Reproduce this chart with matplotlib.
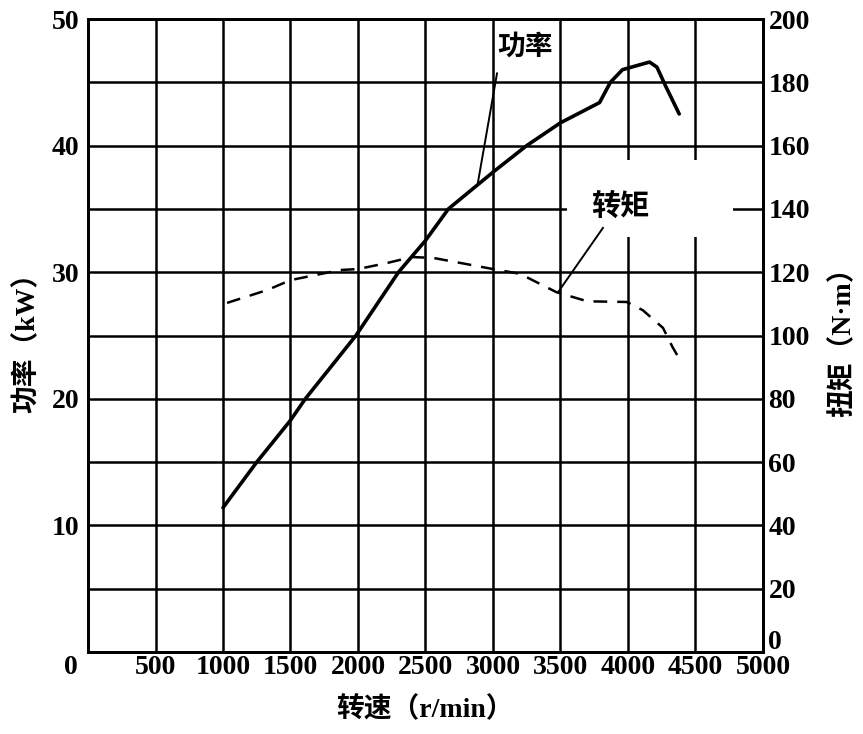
import matplotlib
matplotlib.use('Agg')
import matplotlib.pyplot as plt
import matplotlib.transforms as mtransforms
from matplotlib.patches import Rectangle

# engine speed (r/min) and power (kW)
power_rpm = [1000, 1250, 1500, 1610, 1985, 2300, 2500, 2670, 3000, 3250, 3500,
             3790, 3870, 3960, 4160, 4215, 4275, 4380]
power_kw = [11.4, 15.0, 18.3, 20.0, 25.0, 30.0, 32.5, 35.0, 37.9, 40.0, 41.8,
            43.4, 45.0, 46.0, 46.6, 46.2, 44.8, 42.5]

# torque (N·m) dashed curve
torque_rpm = [1030, 1330, 1500, 1870, 2000, 2215, 2400, 2560, 2800, 3000, 3200,
              3470, 3700, 3990, 4110, 4260, 4330, 4385]
torque_nm = [110.3, 114.4, 117.5, 120.7, 121.0, 122.9, 124.8, 124.5, 122.6, 121.0, 119.5,
             113.7, 110.8, 110.6, 108.0, 102.4, 96.4, 92.3]

x_ticks = list(range(0, 5001, 500))
left_ticks = list(range(0, 51, 5))
left_labels = ['' if (v == 0 or v % 10) else str(v) for v in left_ticks]
right_ticks = list(range(0, 201, 20))

# leader lines for the two curve labels (rpm, kW)
power_leader_x = [3030, 2889]
power_leader_y = [45.7, 37.1]
torque_leader_x = [3815, 3481]
torque_leader_y = [33.5, 28.4]

num_font = dict(family=['Liberation Serif'], weight='bold', size=20)
cjk_font = ['Liberation Serif', 'Noto Sans CJK SC']

fig = plt.figure(figsize=(8.63, 7.34), dpi=100)
ax = fig.add_axes([0.102, 0.1117, 0.782, 0.8624])

ax.set_xlim(0, 5000)
ax.set_ylim(0, 50)
ax.set_xticks(x_ticks)
ax.set_xticklabels([str(v) for v in x_ticks], **num_font)
ax.set_yticks(left_ticks)
ax.set_yticklabels(left_labels, **num_font)
ax.tick_params(axis='both', length=0)
ax.tick_params(axis='y', pad=6)
ax.tick_params(axis='x', pad=2)
ax.grid(True, color='black', linewidth=1.8)
for s in ax.spines.values():
    s.set_linewidth(2.0)

# shift the "0" label a bit left, like the original
lbl0 = ax.get_xticklabels()[0]
lbl0.set_transform(lbl0.get_transform() + mtransforms.ScaledTranslation(-12 / 72, 0, fig.dpi_scale_trans))

ax.plot(power_rpm, power_kw, color='black', linewidth=2.6, zorder=3,
        solid_joinstyle='round', solid_capstyle='round')

# white patch behind the torque label that breaks the grid
ax.add_patch(Rectangle((0.710, 0.656), 0.246, 0.121, transform=ax.transAxes,
                       facecolor='white', edgecolor='none', zorder=2))

ax.plot(power_leader_x, power_leader_y, color='black', linewidth=1.4, zorder=4)
ax.plot(torque_leader_x, torque_leader_y, color='black', linewidth=1.4, zorder=4)

ax.text(3237, 47.7, '功率', ha='center', va='center', fontsize=20, weight='bold',
        family=cjk_font, zorder=5,
        bbox=dict(facecolor='white', edgecolor='none', pad=1))
ax.text(3940, 35.2, '转矩', ha='center', va='center', fontsize=21, weight='bold',
        family=cjk_font, zorder=5)

ax.set_xlabel('转速（r/min）', family=cjk_font, weight='bold', fontsize=20, labelpad=12)
ax.set_ylabel('功率（kW）', family=cjk_font, weight='bold', fontsize=20, labelpad=8)

ax2 = ax.twinx()
ax2.set_ylim(0, 200)
ax2.set_yticks(right_ticks)
ax2.set_yticklabels([str(v) for v in right_ticks], **num_font)
ax2.tick_params(axis='y', length=0, pad=4)
for s in ax2.spines.values():
    s.set_linewidth(2.0)
ax2.plot(torque_rpm, torque_nm, color='black', linewidth=1.8, dashes=(5.5, 4))
ax2.set_ylabel('扭矩（N·m）', family=cjk_font, weight='bold', fontsize=20, labelpad=14)

# lift the right-hand "0" so it clears the 5000 label
r0 = ax2.get_yticklabels()[0]
r0.set_transform(r0.get_transform() + mtransforms.ScaledTranslation(0, 9 / 72, fig.dpi_scale_trans))

fig.savefig('out.png', dpi=100)
